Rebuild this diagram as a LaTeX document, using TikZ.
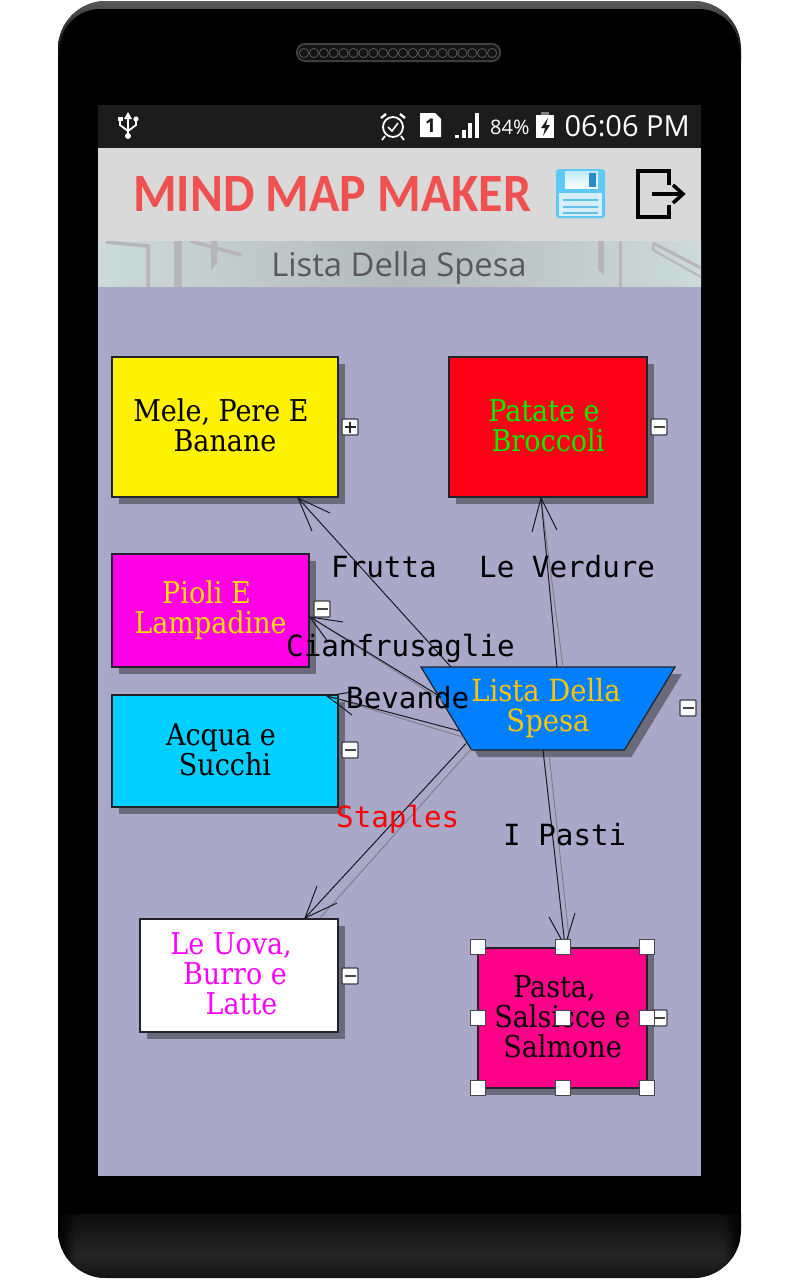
\documentclass[tikz,border=0pt]{standalone}
\usepackage{fontspec}
\usepackage{graphicx}
\usetikzlibrary{calc,fadings}
\setmainfont{DejaVu Serif Condensed}
\newfontfamily\monof{DejaVu Sans Mono}
\newfontfamily\uif{Open Sans}
\newfontfamily\titlef{Carlito}
\definecolor{canvasc}{HTML}{A9A8C8}
\definecolor{shadowc}{HTML}{6B6A7A}
\definecolor{edgec}{HTML}{222228}
\definecolor{mapline}{HTML}{B7B5BC}
\definecolor{rootfill}{RGB}{0,128,255}
\definecolor{roottext}{RGB}{255,196,0}
\definecolor{expedge}{RGB}{60,60,70}
\definecolor{minusc}{RGB}{70,70,70}
\definecolor{plusc}{RGB}{40,40,40}
\definecolor{handleedge}{RGB}{70,70,75}
\definecolor{connc}{RGB}{25,25,35}
\definecolor{conng}{RGB}{125,125,135}
\definecolor{barside}{RGB}{205,218,218}
\definecolor{barmid}{RGB}{178,186,186}
\definecolor{titlec}{RGB}{240,80,80}
\definecolor{subc}{RGB}{85,90,90}
\definecolor{floppy}{RGB}{92,202,245}
\definecolor{floppydark}{RGB}{40,140,200}
\definecolor{floppylabel}{RGB}{214,238,250}
\definecolor{floppyline}{RGB}{96,192,232}
\definecolor{floppytop}{RGB}{190,235,250}
\definecolor{nyellow}{RGB}{255,242,0}
\definecolor{nred}{RGB}{255,0,22}
\definecolor{ngreen}{RGB}{0,240,0}
\definecolor{nmag}{RGB}{255,0,230}
\definecolor{ngold}{RGB}{255,224,0}
\definecolor{ncyan}{RGB}{0,207,255}
\definecolor{nvio}{RGB}{255,0,255}
\definecolor{npink}{RGB}{255,0,136}
\definecolor{lred}{RGB}{255,0,0}
\newcommand{\trl}{\hspace*{8pt}}
\newcommand{\dpt}{\rule[-3.5pt]{0pt}{0pt}}
\tikzset{
  mapbox/.style={rectangle,draw=edgec,line width=1.2pt,inner sep=0pt,align=center,
    font=\fontsize{30}{30}\selectfont,
    preaction={fill=shadowc,draw=none,transform canvas={shift={(7pt,-7pt)}}}},
  roottxt/.style={inner sep=0pt,align=center,font=\fontsize{30.5}{30}\selectfont,text=roottext},
  expbox/.style={rectangle,rounded corners=1pt,draw=expedge,line width=1.2pt,fill=white,
    minimum size=16pt,inner sep=0pt},
  minus/.style={path picture={\draw[line width=1.3pt,draw=minusc]
    ($(path picture bounding box.center)+(-5.5,0)$)--($(path picture bounding box.center)+(5.5,0)$);}},
  plus/.style={path picture={\draw[line width=1.1pt,draw=plusc]
    ($(path picture bounding box.center)+(-5.5,0)$)--($(path picture bounding box.center)+(5.5,0)$)
    ($(path picture bounding box.center)+(0,-5.5)$)--($(path picture bounding box.center)+(0,5.5)$);}},
  handle/.style={rectangle,draw=handleedge,line width=.9pt,fill=white,minimum size=14.5pt,inner sep=0pt},
  conn/.style={draw=connc,line width=1pt},
  conngrey/.style={draw=conng,line width=.9pt},
  maplabel/.style={anchor=base west,inner sep=0pt,font=\monof\fontsize{29.2}{30}\selectfont},
}
\begin{document}
\begin{tikzpicture}[x=1pt,y=-1pt]
\useasboundingbox (0,0) rectangle (800,1280);
\fill[white] (0,0) rectangle (800,1280);
% phone body
\begin{scope}
  \clip[rounded corners=48pt] (58,1) rectangle (741,1278);
  \fill[black] (58,1) rectangle (741,1278);
  \shade[top color=black!65,bottom color=black] (58,1) rectangle (741,60);
  \fill[black,rounded corners=40pt] (60,9) rectangle (739,300);
  \shade[top color=black!95!white,bottom color=black!85!white] (58,1214) rectangle (741,1256);
  \shade[top color=black!85!white,bottom color=black!93!white] (58,1256) rectangle (741,1278);
  \fill[black,path fading=east] (58,1214) rectangle (76,1278);
  \fill[black,path fading=west] (723,1214) rectangle (741,1278);
\end{scope}
% speaker
\fill[black!75!white,rounded corners=9pt] (296,43) rectangle (501,62);
\fill[black!92!white,rounded corners=7pt] (298,45) rectangle (499,60);
\foreach \i in {0,...,19} \draw[black!65!white,line width=.8pt] (304+\i*9.9,53) circle (4.6);
% screen
\fill[black!89!white] (98,105) rectangle (701,148);
\fill[black!15] (98,148) rectangle (701,241);
\shade[left color=barside,right color=barmid] (98,241) rectangle (400,287);
\shade[left color=barmid,right color=barside] (400,241) rectangle (701,287);
\begin{scope}
  \clip (98,241) rectangle (701,287);
  \draw[mapline,line width=3.5pt] (106,242)--(148,246)--(148,287);
  \fill[mapline] (174,241) rectangle (182,287);
  \draw[mapline,line width=3.5pt] (190,241)--(242,255);
  \fill[mapline] (211,241)--(217,241)--(217,262)--(211,271)--cycle;
  \fill[mapline] (598,241)--(604,241)--(604,275)--(598,270)--cycle;
  \fill[mapline] (619,241) rectangle (622,287);
  \draw[mapline,line width=3pt] (653,243)--(701,268);
  \draw[mapline,line width=2pt] (653,243)--(653,250)--(701,277);
\end{scope}
\fill[canvasc] (98,287) rectangle (701,1176);
% status bar icons
\begin{scope}[white,line width=1.8pt]
  \draw (128,117)--(128,134);
  \fill (128,112)--(132,119)--(124,119)--cycle;
  \fill (128,136) circle (3);
  \draw (120,121)--(120,125)--(128,131)--(136,125)--(136,121);
  \fill (117.5,117) rectangle (122.5,121);
  \fill (136,119) circle (2.6);
  \draw (393,127) circle (10);
  \draw[line width=1.6pt] (388,127)--(392,131)--(398,123);
  \draw[line width=2.4pt] (381,118)--(386,114) (400,114)--(405,118);
  \draw (385,136)--(382,140) (401,136)--(404,140);
  \fill (420,113)--(435,113)--(441,119)--(441,137)--(420,137)--cycle;
  \foreach \i/\h in {0/3,1/8,2/15,3/25} \fill (455+\i*6.6,138) rectangle (459+\i*6.6,138-\h);
  \fill[black!50] (541,112) rectangle (549,116);
  \fill (536,115) rectangle (554,138);
  \fill[black!89!white] (548,118)--(541,128)--(545,128)--(543,136)--(550,125)--(546,125)--cycle;
\end{scope}
\node[anchor=base,inner sep=0pt,text=black!89!white,font=\uif\bfseries\fontsize{19}{19}\selectfont] (simnum) at (430.5,132) {1};
\node[anchor=base west,inner sep=0pt,text=white,font=\uif\fontsize{20}{20}\selectfont] (batt) at (490,134.5) {84\%};
\node[anchor=base east,inner sep=0pt,text=white,font=\uif\fontsize{29}{29}\selectfont] (clock) at (690,136) {06:06 PM};
% header
\node[anchor=base west,inner sep=0pt,text=titlec] (title) at (133,211)
  {\resizebox{398pt}{35pt}{\titlef\bfseries MIND MAP MAKER}};
\node[anchor=base,inner sep=0pt,text=subc,font=\uif\fontsize{32.8}{33}\selectfont] (subtitle) at (399,276) {Lista Della Spesa};
% save icon
\fill[floppy,rounded corners=3pt] (556,169) rectangle (605,218);
\shade[top color=floppytop,bottom color=white] (565,171) rectangle (598,188);
\fill[floppydark] (589,173) rectangle (596,187);
\fill[floppylabel] (559,193) rectangle (602,216);
\foreach \yy in {200,207,213} \draw[floppyline,line width=1.2pt] (563,\yy)--(598,\yy);
% exit icon
\draw[black,line width=3.6pt] (669,185)--(669,171)--(638,171)--(638,217)--(669,217)--(669,205);
\draw[black,line width=3.6pt] (652,194)--(682,194);
\draw[black,line width=3.6pt] (673,185)--(683,194)--(673,203);
% mind map nodes
\node[mapbox,fill=nyellow,minimum width=226pt,minimum height=140pt] (yellow) at (225,427) {Mele, Pere E\trl\\Banane\dpt};
\node[mapbox,fill=nred,text=ngreen,minimum width=198pt,minimum height=140pt] (red) at (548,427) {Patate e\trl\\Broccoli\dpt};
\node[mapbox,fill=nmag,text=ngold,minimum width=197pt,minimum height=113pt] (magenta) at (210.5,610.5) {Pioli E\trl\\Lampadine\dpt};
\node[mapbox,fill=ncyan,minimum width=226pt,minimum height=112pt] (cyan) at (225,751) {Acqua e\trl\\Succhi\dpt};
\node[mapbox,fill=white,text=nvio,minimum width=198pt,minimum height=113pt] (eggs) at (239,975.5) {Le Uova,\trl\trl\\Burro e\trl\trl\\\hspace*{5pt}Latte\dpt};
\node[mapbox,fill=npink,minimum width=169pt,minimum height=140pt] (pink) at (562.5,1018) {Pasta,\trl\trl\\Salsicce e\trl\\Salmone\dpt};
\coordinate (rootc) at (548,708.5);
\fill[shadowc] ($(rootc)+(-127+7,-41.5+7)$)--($(rootc)+(127+7,-41.5+7)$)--($(rootc)+(76.5+7,41.5+7)$)--($(rootc)+(-76.5+7,41.5+7)$)--cycle;
\draw[edgec,line width=1.2pt,fill=rootfill] ($(rootc)+(-127,-41.5)$)--($(rootc)+(127,-41.5)$)--($(rootc)+(76.5,41.5)$)--($(rootc)+(-76.5,41.5)$)--cycle;
\node[roottxt] (root) at (rootc) {Lista Della\hspace*{4pt}\\Spesa};
% expanders
\node[expbox,plus] (xyellow) at (350,427) {};
\node[expbox,minus] (xred) at (659,427) {};
\node[expbox,minus] (xmag) at (322,609) {};
\node[expbox,minus] (xcyan) at (350,750) {};
\node[expbox,minus] (xeggs) at (350,976) {};
\node[expbox,minus] (xroot) at (688,708) {};
\node[expbox,minus] (xpink) at (659,1018) {};
% connectors
\draw[conn] ($(root.center)+(-97,-41.5)$) -- ($(yellow.center)+(73,71)$);
\draw[conn] ($(yellow.center)+(73,71)+(32,15)$) -- ($(yellow.center)+(73,71)$) -- ($(yellow.center)+(73,71)+(14,33)$);
\draw[conngrey] ($(root.center)+(15,-41.5)$) -- ($(red.center)+(-7,71)$);
\draw[conn] ($(root.center)+(9,-41.5)$) -- ($(red.center)+(-7,71)$);
\draw[conn] ($(red.center)+(-7,71)+(-9,34)$) -- ($(red.center)+(-7,71)$) -- ($(red.center)+(-7,71)+(16,32)$);
\draw[conngrey] ($(root.center)+(-105,-7.5)$) -- ($(magenta.center)+(99.5,6.5)$);
\draw[conn] ($(root.center)+(-107,-11.5)$) -- ($(magenta.center)+(99.5,6.5)$);
\draw[conn] ($(magenta.center)+(99.5,6.5)+(33,5)$) -- ($(magenta.center)+(99.5,6.5)$) -- ($(magenta.center)+(99.5,6.5)+(18,25)$);
\draw[conngrey] ($(root.center)+(-85,28.5)$) -- ($(cyan.center)+(102,-55)$);
\draw[conn] ($(root.center)+(-88,22.5)$) -- ($(cyan.center)+(102,-55)$);
\draw[conn] ($(cyan.center)+(102,-55)+(25,-4)$) -- ($(cyan.center)+(102,-55)$) -- ($(cyan.center)+(102,-55)+(25,19)$);
\draw[conngrey] ($(root.center)+(-77,40.5)$) -- ($(eggs.center)+(81,-57.5)$);
\draw[conn] ($(root.center)+(-82,35)$) -- ($(eggs.center)+(66,-57.5)$);
\draw[conn] ($(eggs.center)+(66,-57.5)+(12,-32)$) -- ($(eggs.center)+(66,-57.5)$) -- ($(eggs.center)+(66,-57.5)+(32,-15)$);
\draw[conngrey] ($(root.center)+(1.5,49.5)$) -- ($(pink.center)+(7.5,-71)$);
\draw[conn] ($(root.center)+(-5,41.5)$) -- ($(pink.center)+(2.5,-72)$);
\draw[conn] ($(pink.center)+(2.5,-72)+(-16,-29)$) -- ($(pink.center)+(2.5,-72)$) -- ($(pink.center)+(2.5,-72)+(10,-33)$);
% connector labels
\node[maplabel] (lfrutta) at (331,577) {Frutta};
\node[maplabel] (lverdure) at (479,577) {Le Verdure};
\node[maplabel] (lcianf) at (286,656) {Cianfrusaglie};
\node[maplabel] (lbev) at (346,708) {Bevande};
\node[maplabel,text=lred] (lstaples) at (336,827) {Staples};
\node[maplabel] (lpasti) at (503,845) {I Pasti};
% selection handles
\foreach \n/\hx/\hy in {ha/478/947,hb/563/947,hc/647/947,hd/478/1018,he/563/1018,hf/647/1018,hg/478/1088,hh/563/1088,hi/647/1088}
  \node[handle] (\n) at (\hx,\hy) {};
\end{tikzpicture}
\end{document}
